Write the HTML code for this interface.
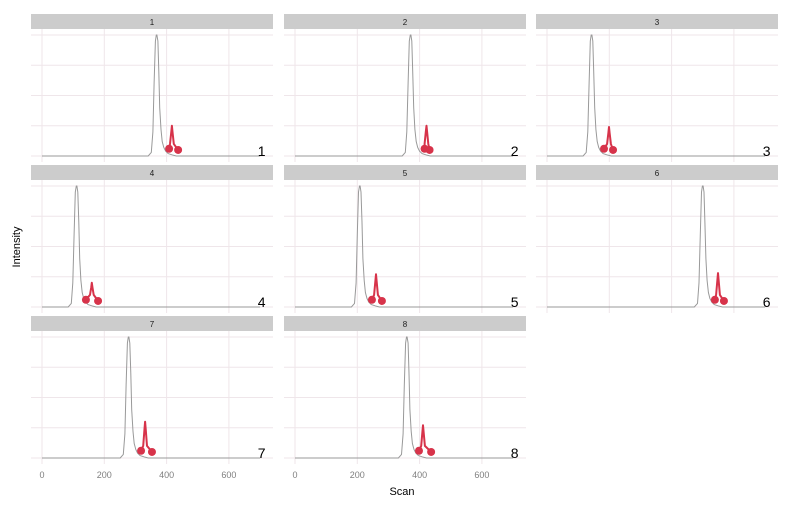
<!DOCTYPE html>
<html><head><meta charset="utf-8"><style>
body{margin:0;background:#fff;width:792px;height:504px;overflow:hidden;font-family:"Liberation Sans",sans-serif}
</style></head><body>
<svg id="chart" width="792" height="504" xmlns="http://www.w3.org/2000/svg"></svg>
<script>
const panels=["1","2","3","4","5","6","7","8"];
const mainPeak=[369,372,144,112,209,501,279,360];
const redPeak=[417,422,199,160,260,549,331,411];
const redHeight=[0.25,0.25,0.24,0.2,0.27,0.28,0.3,0.27];
const dotLeft=[408,416,183,141,247,539,318,398];
const dotRight=[437,432,212,180,279,568,353,437];
const tplOffset=[-28,-18,-13,-9,-5,-2,0,3,6,9,13,17,22,28,36,48,62];
const tplValue=[0,0.03,0.2,0.6,0.95,1,1,0.95,0.7,0.4,0.22,0.12,0.07,0.04,0.02,0.01,0];
const xTicks=[0,200,400,600];
const yTicks=[0,0.25,0.5,0.75,1];
const NS="http://www.w3.org/2000/svg";
const svg=document.getElementById('chart');
function mk(t,a,p){const e=document.createElementNS(NS,t);for(const k in a)e.setAttribute(k,a[k]);(p||svg).appendChild(e);return e;}
const colX=[31,284,536],rowY=[14,165,316],PW=242,stripH=15,plotH=133;
panels.forEach((lab,i)=>{
  const c=i%3,r=Math.floor(i/3),x0=colX[c],y0=rowY[r];
  const g=mk('g',{});
  
  
  const sx=v=>x0+11+v*0.3115;
  const base=y0+142;
  const sy=v=>base-v*121;
  const st=mk('rect',{x:x0,y:y0,width:PW,height:stripH,fill:'#cccccc'},g);
  
  
  const stt=mk('text',{x:x0+PW/2,y:y0+11,'text-anchor':'middle','font-size':'8',fill:'#1a1a1a'},g);
  stt.textContent=lab;
  
  
  yTicks.forEach(t=>{const l=mk('line',{x1:x0,x2:x0+PW,y1:sy(t),y2:sy(t),stroke:'#efe6ea','stroke-width':1},g);
    });
  xTicks.forEach(t=>{const l=mk('line',{x1:sx(t),x2:sx(t),y1:y0+stripH,y2:y0+stripH+plotH,stroke:'#efe6ea','stroke-width':1},g);
    });
  const m=mainPeak[i];
  let pts=[[0,0]];
  tplOffset.forEach((o,k)=>pts.push([m+o,tplValue[k]]));
  pts.push([700,0]);
  const d=pts.map((p,k)=>(k?'L':'M')+sx(p[0]).toFixed(1)+','+sy(p[1]).toFixed(1)).join('');
  const tr=mk('path',{d:d,fill:'none',stroke:'#999','stroke-width':1},g);
  
  
  const rp=redPeak[i],rh=redHeight[i];
  const rpts=[[dotLeft[i],0.06],[rp-6,0.1],[rp-2,rh*0.8],[rp,rh],[rp+2,rh*0.8],[rp+6,0.1],[dotRight[i],0.05]];
  const rd=rpts.map((p,k)=>(k?'L':'M')+sx(p[0]).toFixed(1)+','+sy(p[1]).toFixed(1)).join('');
  const rl=mk('path',{d:rd,fill:'none',stroke:'#d7334a','stroke-width':2,'stroke-linejoin':'round'},g);
  
  
  [[dotLeft[i],0.06],[dotRight[i],0.05]].forEach(p=>{
    const ci=mk('circle',{cx:sx(p[0]),cy:sy(p[1]),r:4,fill:'#d7334a'},g);
    
    
  });
  const nl=mk('text',{x:sx(705),y:base,'text-anchor':'middle','font-size':'14',fill:'#000'},g);
  nl.textContent=lab;
  
  
  if(r===2){
    xTicks.forEach(t=>{const tt=mk('text',{x:sx(t),y:478,'text-anchor':'middle','font-size':'9',fill:'#7f7f7f'},g);
      tt.textContent=t;});
  }
});
const xt=mk('text',{x:402,y:495,'text-anchor':'middle','font-size':'11',fill:'#000'});
xt.textContent='Scan';


const yt=mk('text',{x:0,y:0,transform:'translate(20,247) rotate(-90)','text-anchor':'middle','font-size':'11',fill:'#000'});
yt.textContent='Intensity';


</script>
</body></html>
